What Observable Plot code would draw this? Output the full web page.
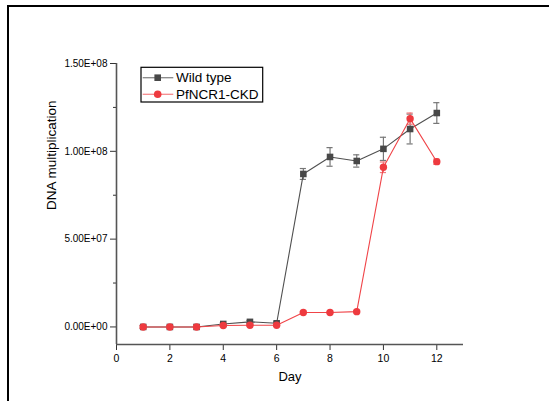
<!DOCTYPE html>
<html><head><meta charset="utf-8">
<script src="https://cdn.jsdelivr.net/npm/d3@7"></script>
<script src="https://cdn.jsdelivr.net/npm/@observablehq/plot@0.6"></script>
<style>
html,body{margin:0;padding:0;background:#fff;}
#wrap{position:relative;width:549px;height:401px;overflow:hidden;}
#frame{position:absolute;left:6.5px;top:5px;width:600px;height:500px;border-left:2px solid #000;border-top:2px solid #000;}
</style></head><body><div id="wrap"><div id="chart"></div><div id="frame"></div></div>
<script>
const days = [1, 2, 3, 4, 5, 6, 7, 8, 9, 10, 11, 12];
const wildType    = [0, 0, 0, 1.7e6, 2.9e6, 2.1e6, 8.71e7, 9.68e7, 9.45e7, 1.014e8, 1.127e8, 1.218e8];
const wildTypeErr = [8e5, 6e5, 8e5, 6e5, 8e5, 8e5, 3.1e6, 5.3e6, 3.5e6, 6.6e6, 8.5e6, 5.9e6];
const ckd         = [0, 0, 0, 8e5, 1e6, 1e6, 8.2e6, 8.2e6, 8.7e6, 9.09e7, 1.186e8, 9.41e7];
const ckdErr      = [8e5, 6e5, 8e5, 6e5, 6e5, 6e5, 6e5, 6e5, 6e5, 3e6, 3.2e6, 1.5e6];
const seriesNames = ["Wild type", "PfNCR1-CKD"];
const seriesColors = ["#484848", "#ee3a3f"];
const errColors = ["#777777", "#f27a7d"];
const yTicks = [0, 5e7, 1e8, 1.5e8];
const yMinorTicks = [2.5e7, 7.5e7, 1.25e8];
const xTicks = [0, 2, 4, 6, 8, 10, 12];
const xDomain = [0, 13];
const yDomain = [-1e7, 1.5e8];
const xLabel = "Day";
const yLabel = "DNA multiplication";

const rows = [];
days.forEach((d, i) => {
  rows.push({day: d, value: wildType[i], err: wildTypeErr[i], series: seriesNames[0]});
  rows.push({day: d, value: ckd[i], err: ckdErr[i], series: seriesNames[1]});
});
const fmt = v => {
  const [m, e] = v.toExponential(2).split("e");
  const n = +e;
  return m + "E" + (n < 0 ? "-" : "+") + String(Math.abs(n)).padStart(2, "0");
};
const font = "'Liberation Sans', Arial, sans-serif";
const capHalf = 0.115;

const seriesMarks = seriesNames.flatMap((name, k) => {
  const data = rows.filter(r => r.series === name);
  return [
    Plot.ruleX(data, {x: "day", y1: d => d.value - d.err, y2: d => d.value + d.err, stroke: errColors[k], strokeWidth: 1.2}),
    Plot.ruleY(data, {y: d => d.value + d.err, x1: d => d.day - capHalf, x2: d => d.day + capHalf, stroke: errColors[k], strokeWidth: 1.2}),
    Plot.ruleY(data, {y: d => d.value - d.err, x1: d => d.day - capHalf, x2: d => d.day + capHalf, stroke: errColors[k], strokeWidth: 1.2}),
    Plot.line(data, {x: "day", y: "value", stroke: k === 0 ? "#505050" : "#f04448", strokeWidth: 1.1}),
    Plot.dot(data, {x: "day", y: "value", symbol: k === 0 ? "square" : "circle", r: 3.7, fill: seriesColors[k], stroke: "none"})
  ];
});

const chart = Plot.plot({
  width: 549,
  height: 401,
  marginLeft: 116,
  marginRight: 86,
  marginTop: 63,
  marginBottom: 57,
  style: {fontFamily: font, background: "transparent", color: "#000", overflow: "visible"},
  x: {domain: xDomain, axis: null},
  y: {domain: yDomain, axis: null},
  marks: [
    Plot.axisY({ticks: yTicks, tickSize: 6, tickPadding: 3, tickFormat: fmt, fontSize: 10, label: null, stroke: "#333"}),
    Plot.axisY({ticks: yMinorTicks, tickSize: 3, tickFormat: () => "", label: null, stroke: "#333"}),
    Plot.axisX({ticks: xTicks, tickSize: 6, tickPadding: 4, fontSize: 10.5, label: null, stroke: "#333"}),
    Plot.ruleX([xDomain[0]], {stroke: "#555", strokeWidth: 1.6}),
    Plot.ruleY([yDomain[0]], {stroke: "#555", strokeWidth: 1.6}),
    Plot.text([xLabel], {frameAnchor: "bottom", dy: 36, fontSize: 13, fill: "#000"}),
    Plot.text([yLabel], {frameAnchor: "left", dx: -65, dy: 6, rotate: -90, fontSize: 13.5, fill: "#000"}),
    ...seriesMarks
  ]
});
document.getElementById("chart").appendChild(chart);

// legend
const svg = d3.select(chart);
const lg = svg.append("g").attr("font-family", font).attr("text-anchor", "start");
lg.append("rect").attr("x", 141).attr("y", 67.3).attr("width", 121.7).attr("height", 34.7)
  .attr("fill", "#fff").attr("stroke", "#000").attr("stroke-width", 1.2);
const rowY = [77.7, 94.3];
seriesNames.forEach((name, k) => {
  const y = rowY[k];
  lg.append("line").attr("x1", 142.7).attr("x2", 173.3).attr("y1", y).attr("y2", y)
    .attr("stroke", k === 0 ? "#888" : "#f58a8c").attr("stroke-width", 1.3);
  if (k === 0) {
    lg.append("rect").attr("x", 157.7 - 3.3).attr("y", y - 3.3).attr("width", 6.6).attr("height", 6.6).attr("fill", seriesColors[0]);
  } else {
    lg.append("circle").attr("cx", 157.7).attr("cy", y).attr("r", 3.8).attr("fill", seriesColors[1]);
  }
  lg.append("text").attr("x", 176).attr("y", y).attr("dy", "0.35em").attr("font-size", 13.5).attr("fill", "#000").text(name);
});
</script></body></html>
